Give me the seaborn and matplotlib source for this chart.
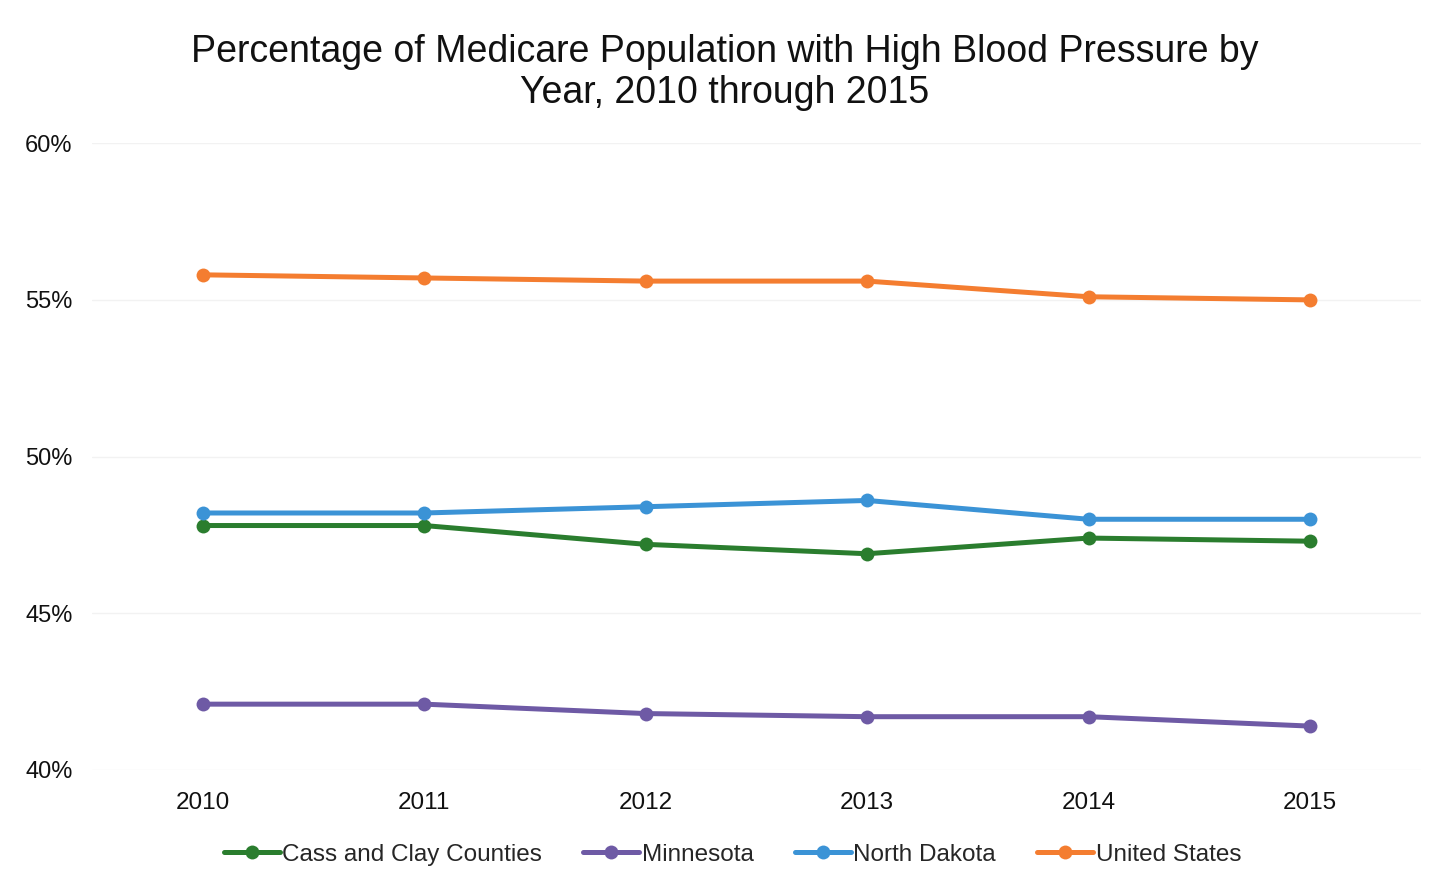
import numpy as np
import pandas as pd
import matplotlib
matplotlib.use("Agg")
import matplotlib.pyplot as plt
import seaborn as sns

# === Data ===
years = [2010, 2011, 2012, 2013, 2014, 2015]
cass_clay = [47.8, 47.8, 47.2, 46.9, 47.4, 47.3]
minnesota = [42.1, 42.1, 41.8, 41.7, 41.7, 41.4]
north_dakota = [48.2, 48.2, 48.4, 48.6, 48.0, 48.0]
united_states = [55.8, 55.7, 55.6, 55.6, 55.1, 55.0]

series_names = ["Cass and Clay Counties", "Minnesota", "North Dakota", "United States"]
series_values = [cass_clay, minnesota, north_dakota, united_states]
colors = ["#2a7d2e", "#6e5aa5", "#3b93d6", "#f47d30"]

rows = []
for name, vals in zip(series_names, series_values):
    for yr, v in zip(years, vals):
        rows.append({"Year": yr, "Value": v, "Series": name})
df = pd.DataFrame(rows)

# === Plot ===
sns.set_theme(style="white")
plt.rcParams["font.family"] = ["Liberation Sans", "DejaVu Sans"]

fig = plt.figure(figsize=(14.49, 8.84), dpi=100)
ax = fig.add_axes([0.0635, 0.129, 0.917, 0.709])

sns.lineplot(data=df, x="Year", y="Value", hue="Series", hue_order=series_names,
             palette=colors, marker="o", markersize=10, markeredgewidth=0,
             linewidth=3.6, ax=ax)

ax.set_xlim(2009.5, 2015.5)
ax.set_ylim(40, 60)
ax.set_yticks([40, 45, 50, 55, 60])
ax.set_yticklabels([f"{t}%" for t in [40, 45, 50, 55, 60]], fontsize=17, color="#111111")
ax.set_xticks(years)
ax.set_xticklabels([str(y) for y in years], fontsize=17.5, color="#111111")
ax.tick_params(axis="x", length=0, pad=16)
ax.tick_params(axis="y", length=0, pad=14)
ax.set_xlabel("")
ax.set_ylabel("")
ax.yaxis.grid(True, color="#f2f2f2", linewidth=1)
for s in ax.spines.values():
    s.set_visible(False)

fig.suptitle("Percentage of Medicare Population with High Blood Pressure by\nYear, 2010 through 2015",
             fontsize=27, y=0.962, color="#111111", linespacing=1.2)

handles, labels = ax.get_legend_handles_labels()
ax.legend(handles, labels, loc="center", bbox_to_anchor=(0.482, -0.135), ncol=4,
          frameon=False, fontsize=17.5, handlelength=2.3, handletextpad=0.1,
          columnspacing=1.7)

fig.savefig("out.png", dpi=100)
